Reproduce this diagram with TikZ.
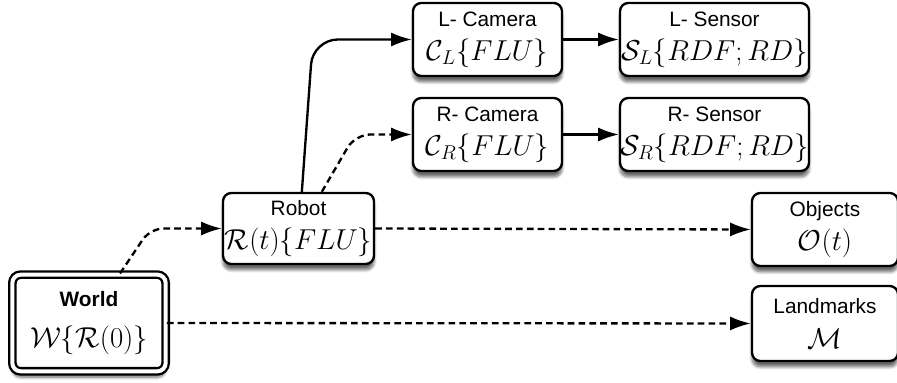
\documentclass[tikz,border=0pt]{standalone}
\usepackage{fontspec}
\setsansfont{Liberation Sans}
\usetikzlibrary{arrows.meta,shadows.blur}

\tikzset{
  block/.style={draw, rounded corners=5pt, fill=white, align=center, inner sep=0pt,
    font=\sffamily\fontsize{12.5}{20.5}\selectfont,
    blur shadow={shadow xshift=0pt, shadow yshift=-3.5pt, shadow blur steps=8, shadow opacity=60}},
  dline/.style={dash pattern=on 4pt off 2.5pt},
}
\newcommand{\mth}[1]{\fontsize{16.5}{20.5}\selectfont$#1$}

\begin{document}
\begin{tikzpicture}[x=0.6pt, y=0.6pt, line width=1.4pt, >={Latex[length=12.5pt,width=8.5pt]}]

  \useasboundingbox (0,0) rectangle (897,383);
  \clip (0,0) rectangle (897,383);

  % World
  \node[block, double, double distance=2.4pt, minimum width=92pt, minimum height=58pt] (world) at (89,60)
    {\textbf{World}\\[4pt]\mth{\mathcal{W}\{\mathcal{R}(0)\}}};

  % Robot
  \node[block, minimum width=90.6pt, minimum height=42.6pt] (robot) at (298.5,154.5)
    {Robot\\\mth{\mathcal{R}(t)\{FLU\}}};

  % Cameras
  \node[block, minimum width=89.4pt, minimum height=43.8pt] (lcam) at (487.5,343.5)
    {L- Camera\\\mth{\mathcal{C}_L\{FLU\}}};
  \node[block, minimum width=89.4pt, minimum height=43.8pt] (rcam) at (487.5,248.5)
    {R- Camera\\\mth{\mathcal{C}_R\{FLU\}}};

  % Sensors
  \node[block, minimum width=113.4pt, minimum height=43.8pt] (lsen) at (714.5,343.5)
    {L- Sensor\\\mth{\mathcal{S}_L\{RDF;RD\}}};
  \node[block, minimum width=113.4pt, minimum height=43.8pt] (rsen) at (714.5,248.5)
    {R- Sensor\\\mth{\mathcal{S}_R\{RDF;RD\}}};

  % Objects and landmarks
  \node[block, minimum width=87.6pt, minimum height=43.8pt] (obj) at (825,153.5)
    {Objects\\\mth{\mathcal{O}(t)}};
  \node[block, minimum width=87.6pt, minimum height=45pt] (land) at (825,59.5)
    {Landmarks\\\mth{\mathcal{M}}};

  % Links
  \draw[->, dline, rounded corners=8pt] ([xshift=18.6pt]world.north) -- ([xshift=-43pt]robot.west) -- (robot.west);
  \draw[->, rounded corners=15pt] ([xshift=2pt]robot.north) -- ([xshift=-59.4pt]lcam.west) -- (lcam.west);
  \draw[->, dline, rounded corners=9pt] ([xshift=14pt]robot.north) -- ([xshift=-34pt]rcam.west) -- (rcam.west);
  \draw[->, dline] (robot.east) -- (obj.west);
  \draw[->, dline] (world.east) -- (land.west);
  \draw[->] (lcam) -- (lsen);
  \draw[->] (rcam) -- (rsen);

\end{tikzpicture}
\end{document}
